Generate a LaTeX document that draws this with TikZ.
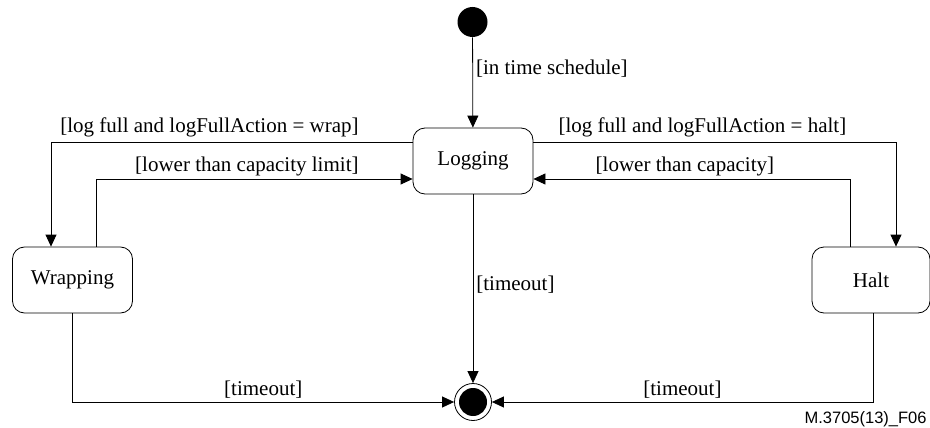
\documentclass[tikz,border=0pt]{standalone}
\usepackage{fontspec}
\setmainfont{Liberation Serif}
\newfontfamily\figfont{Liberation Sans}
\usetikzlibrary{arrows.meta}

\tikzset{
  state/.style={draw,rounded corners=12pt,minimum width=120pt,minimum height=66pt,font=\fontsize{21}{25}\selectfont},
  guard/.style={font=\fontsize{21}{25}\selectfont,inner sep=3pt},
  trans/.style={-{Triangle[length=12pt,width=11pt]}},
}

\begin{document}
\begin{tikzpicture}[x=1pt,y=-1pt,line width=0.8pt]
      \useasboundingbox (0,0) rectangle (930,428);

      \node [circle,fill,minimum size=30pt,inner sep=0] (init) at (472.5,22) {};
      \node [state] (logging) at (473,161) {Logging};
      \node [state] (wrapping) at (72.5,280) {Wrapping};
      \node [state,minimum width=118pt] (halt) at (871,280) {Halt};
      \node [circle,draw,minimum size=37pt,inner sep=0] (final) at (473,402) {};
      \fill (final.center) circle [radius=14];

      \draw [trans] (init) -- node [guard,right,pos=0.35] {[in time schedule]} (logging);

      \draw [trans] ([yshift=19pt]logging.west) -| node [guard,above left,pos=0.07,yshift=2pt] {[log full and logFullAction = wrap]} ([xshift=-21.5pt]wrapping.north);
      \draw [trans] ([xshift=23.5pt]wrapping.north) |- node [guard,above left,pos=0.92] {[lower than capacity limit]} ([yshift=-18pt]logging.west);

      \draw [trans] ([yshift=19pt]logging.east) -| node [guard,above right,pos=0.03,yshift=2pt] {[log full and logFullAction = halt]} ([xshift=25pt]halt.north);
      \draw [trans] ([xshift=-21pt]halt.north) |- node [guard,above right,pos=0.907] {[lower than capacity]} ([yshift=-18pt]logging.east);

      \draw [trans] (logging) -- node [guard,right,pos=0.48] {[timeout]} (final);
      \draw [trans] (wrapping) |- node [guard,above,pos=0.75] {[timeout]} (final);
      \draw [trans] ([xshift=2pt]halt.south) |- node [guard,above,pos=0.75] {[timeout]} (final);

      \node [font=\figfont\fontsize{16.5}{19}\selectfont,anchor=east,inner sep=0] (figid) at (927,419) {M.3705(13)\_F06};
\end{tikzpicture}
\end{document}
